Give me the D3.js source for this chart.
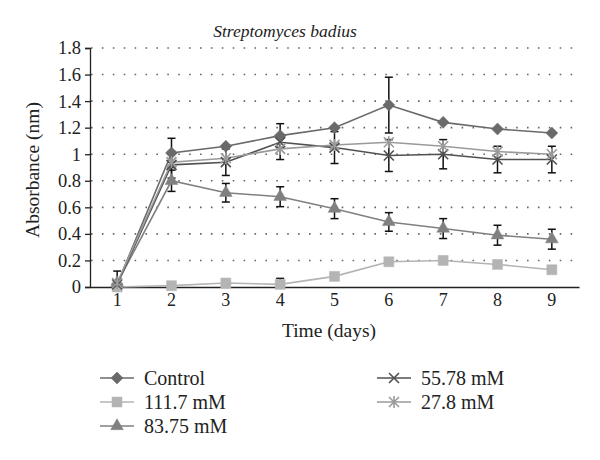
<!DOCTYPE html>
<html><head><meta charset="utf-8">
<script src="https://cdn.jsdelivr.net/npm/d3@7"></script>
<style>body{margin:0;background:#fff}svg{display:block}text{font-family:"Liberation Serif","DejaVu Serif",serif;fill:#222}</style>
</head><body><svg id="c" width="600" height="460"></svg>
<script>
const days = [1,2,3,4,5,6,7,8,9];
const yTicks = [0,0.2,0.4,0.6,0.8,1,1.2,1.4,1.6,1.8];
const yTickLabels = ["0","0.2","0.4","0.6","0.8","1","1.2","1.4","1.6","1.8"];
const seriesNames = ["Control","111.7 mM","83.75 mM","55.78 mM","27.8 mM"];
const control  = [0.02,1.01,1.06,1.14,1.20,1.37,1.24,1.19,1.16];
const controlErr=[0,0.11,0,0.09,0,0.21,0,0,0];
const m111 = [0.00,0.01,0.03,0.02,0.08,0.19,0.20,0.17,0.13];
const m111Err=[0,0,0,0.045,0,0,0,0,0];
const m83  = [0.03,0.80,0.71,0.68,0.59,0.49,0.44,0.39,0.36];
const m83Err=[0,0.08,0.07,0.075,0.075,0.07,0.075,0.075,0.075];
const m55  = [0.02,0.92,0.94,1.09,1.05,0.99,1.00,0.96,0.96];
const m55Err=[0.1,0.1,0.1,0,0.12,0.12,0.11,0.1,0.1];
const m27  = [0.03,0.94,0.97,1.04,1.07,1.09,1.06,1.02,1.00];
const m27Err=[0,0,0,0.08,0,0,0,0,0];

const series = [
  {name:seriesNames[0], vals:control, err:controlErr, color:"#6a6a6a", marker:"diamond"},
  {name:seriesNames[1], vals:m111, err:m111Err, color:"#b4b4b4", marker:"square"},
  {name:seriesNames[2], vals:m83, err:m83Err, color:"#808080", marker:"triangle"},
  {name:seriesNames[3], vals:m55, err:m55Err, color:"#505050", marker:"x"},
  {name:seriesNames[4], vals:m27, err:m27Err, color:"#9a9a9a", marker:"star"}
];

const svg = d3.select("#c");
const x = d3.scaleBand().domain(days).range([90,579]).padding(0);
const cx = d => x(d) + x.bandwidth()/2;
const y = d3.scaleLinear().domain([0,1.8]).range([287,48]);

// grid
svg.append("g").selectAll("line").data(yTicks.filter(t=>t>0)).join("line")
  .attr("x1",91).attr("x2",579).attr("y1",d=>y(d)).attr("y2",d=>y(d))
  .attr("stroke","#666").attr("stroke-width",1.6).attr("stroke-dasharray","1.6,9.3");

// axes
const ya = svg.append("g").attr("transform","translate(90,0)")
  .call(d3.axisLeft(y).tickValues(yTicks).tickSize(5).tickFormat((d,i)=>yTickLabels[i]));
ya.select(".domain").attr("stroke","#222").attr("stroke-width",1.3);
ya.selectAll(".tick line").attr("stroke","#222").attr("stroke-width",1.3);
ya.selectAll("text").attr("font-size",18.5).attr("x",-9).style("font-family","Liberation Serif").attr("fill","#222");

const xa = svg.append("g").attr("transform","translate(0,287)")
  .call(d3.axisBottom(x).tickSize(0).tickPadding(6));
xa.select(".domain").attr("stroke","#222").attr("stroke-width",1.5);
xa.selectAll("text").attr("font-size",18).style("font-family","Liberation Serif").attr("fill","#222");

// labels
svg.append("text").attr("x",285).attr("y",37).attr("text-anchor","middle")
  .attr("font-size",17.5).attr("font-style","italic").text("Streptomyces badius");
svg.append("text").attr("transform","translate(39,170) rotate(-90)").attr("text-anchor","middle")
  .attr("font-size",19.5).text("Absorbance (nm)");
svg.append("text").attr("x",329).attr("y",337).attr("text-anchor","middle")
  .attr("font-size",19.5).text("Time (days)");

function markerPath(type){
  switch(type){
    case "diamond": return "M0,-6L6,0L0,6L-6,0Z";
    case "square": return "M-5,-5H5V5H-5Z";
    case "triangle": return d3.symbol().type(d3.symbolTriangle).size(70)();
    case "x": return "M-5,-5L5,5M-5,5L5,-5";
    case "star": return "M-5,-5L5,5M-5,5L5,-5M0,-6V6";
  }
}
function drawMarker(g, s, px, py){
  const p = g.append("path").attr("d", markerPath(s.marker)).attr("transform",`translate(${px},${py})`);
  if (s.marker==="x"||s.marker==="star") p.attr("fill","none").attr("stroke",s.color).attr("stroke-width",1.6);
  else p.attr("fill",s.color).attr("stroke",s.color).attr("stroke-width",0.5);
}

// error bars
const eg = svg.append("g");
series.forEach(s=>{
  s.vals.forEach((v,i)=>{
    const e = s.err[i]; if(!e) return;
    const px = cx(days[i]);
    const y1 = y(v+e), y2 = y(Math.max(0,v-e));
    eg.append("line").attr("x1",px).attr("x2",px).attr("y1",y1).attr("y2",y2).attr("stroke","#111").attr("stroke-width",1.5);
    eg.append("line").attr("x1",px-4).attr("x2",px+4).attr("y1",y1).attr("y2",y1).attr("stroke","#111").attr("stroke-width",1.5);
    if (v-e>0) eg.append("line").attr("x1",px-4).attr("x2",px+4).attr("y1",y2).attr("y2",y2).attr("stroke","#111").attr("stroke-width",1.5);
  });
});

// lines + markers
const line = d3.line().x((d,i)=>cx(days[i])).y(d=>y(d));
series.forEach(s=>{
  svg.append("path").attr("d",line(s.vals)).attr("fill","none").attr("stroke",s.color).attr("stroke-width",1.6);
});
series.forEach(s=>{
  const g = svg.append("g");
  s.vals.forEach((v,i)=>drawMarker(g,s,cx(days[i]),y(v)));
});

// legend
const legPos = [[100,378],[100,402],[100,426],[377,378],[377,402]];
series.forEach((s,i)=>{
  const [lx,ly] = legPos[i];
  const g = svg.append("g");
  g.append("line").attr("x1",lx).attr("x2",lx+34).attr("y1",ly).attr("y2",ly).attr("stroke",s.color).attr("stroke-width",1.6);
  drawMarker(g,s,lx+17,ly);
  g.append("text").attr("x",lx+44).attr("y",ly+6.5).attr("font-size",20).text(s.name);
});
</script></body></html>
